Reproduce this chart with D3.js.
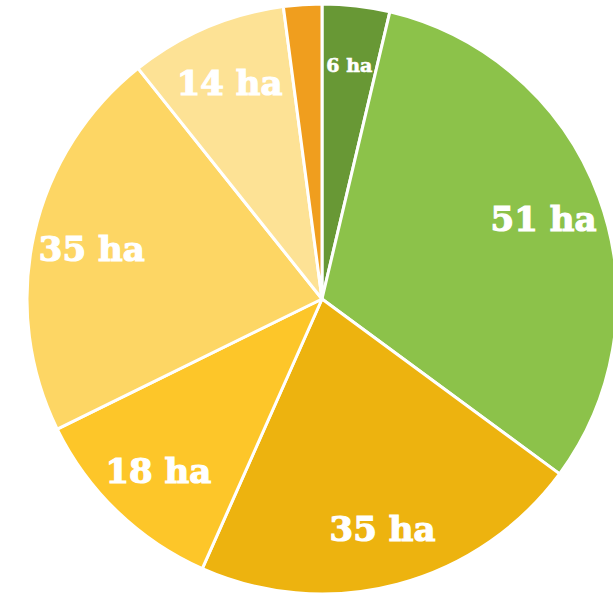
<!DOCTYPE html>
<html>
<head>
<meta charset="utf-8">
<script src="https://cdn.jsdelivr.net/npm/d3@7"></script>
<style>
  html, body { margin: 0; padding: 0; background: #fff; overflow: hidden; }
</style>
</head>
<body>
<script>
// Surfaces par catégorie (ha), dans l'ordre horaire depuis midi
var surfaces = [6, 51, 35, 18, 35, 14, 3.4];
var etiquettes = ["6 ha", "51 ha", "35 ha", "18 ha", "35 ha", "14 ha", ""];
var couleurs = ["#689835", "#8cc24a", "#edb30f", "#fdc629", "#fdd664", "#fde295", "#f09e1e"];

var width = 613, height = 596;
var cx = 322, cy = 299, rayon = 295;

var svg = d3
  .select("body")
  .append("svg")
  .attr("width", width)
  .attr("height", height)
  .append("g")
  .attr("transform", `translate(${cx},${cy})`);

var pie = d3.pie().sort(null).value((d) => d);
var arcs = pie(surfaces);

var arc = d3.arc().innerRadius(0).outerRadius(rayon);
// arc servant uniquement à placer les étiquettes
var arcLabel = d3.arc().innerRadius(rayon * 0.8).outerRadius(rayon * 0.8);

// Draw the slices
svg
  .selectAll("path")
  .data(arcs)
  .join("path")
  .attr("d", arc)
  .attr("fill", (d, i) => couleurs[i])
  .attr("stroke", "#fff")
  .attr("stroke-width", 3)
  .attr("stroke-linejoin", "round");

// Draw the labels (léger contour blanc pour épaissir le trait)
svg
  .selectAll("text")
  .data(arcs)
  .join("text")
  .attr("transform", (d) => `translate(${arcLabel.centroid(d)})`)
  .attr("text-anchor", "middle")
  .attr("dy", "0.4em")
  .attr("fill", "#fff")
  .attr("stroke", "#fff")
  .attr("stroke-width", (d) => (d.endAngle - d.startAngle < 0.3 ? 0.6 : 1.2))
  .attr("font-family", "'DejaVu Serif', serif")
  .attr("font-weight", "bold")
  .attr("font-size", (d) => (d.endAngle - d.startAngle < 0.3 ? 19 : 34))
  .text((d, i) => etiquettes[i]);
</script>
</body>
</html>
